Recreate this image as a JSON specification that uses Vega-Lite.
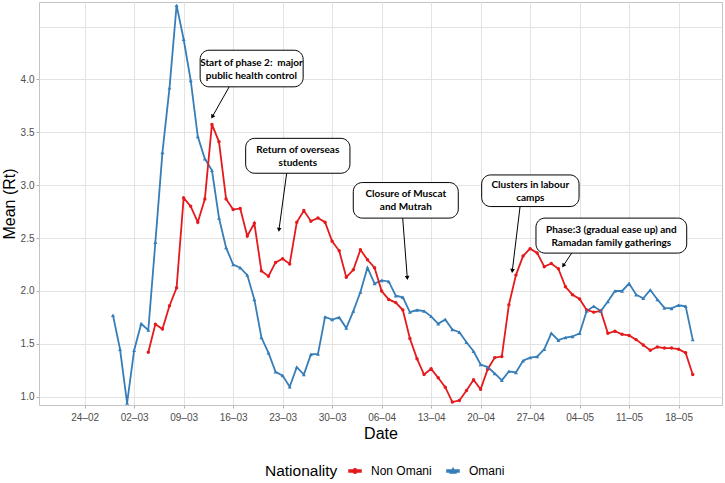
{
  "$schema": "https://vega.github.io/schema/vega-lite/v6.json",
  "autosize": {"type": "none"},
  "padding": {"left": 39, "top": 2, "right": 3, "bottom": 78},
  "width": 683,
  "height": 403,
  "background": "white",
  "config": {
    "font": "Liberation Sans",
    "view": {"stroke": "#c4c4c4", "strokeWidth": 1}
  },
  "datasets": {
    "rt": [
      {"date": "2020-02-28", "nat": "Omani", "rt": 1.77},
      {"date": "2020-02-29", "nat": "Omani", "rt": 1.45},
      {"date": "2020-03-01", "nat": "Omani", "rt": 0.94},
      {"date": "2020-03-02", "nat": "Omani", "rt": 1.44},
      {"date": "2020-03-03", "nat": "Omani", "rt": 1.69},
      {"date": "2020-03-04", "nat": "Omani", "rt": 1.63},
      {"date": "2020-03-05", "nat": "Omani", "rt": 2.46},
      {"date": "2020-03-06", "nat": "Omani", "rt": 3.31},
      {"date": "2020-03-07", "nat": "Omani", "rt": 3.92},
      {"date": "2020-03-08", "nat": "Omani", "rt": 4.70},
      {"date": "2020-03-09", "nat": "Omani", "rt": 4.38},
      {"date": "2020-03-10", "nat": "Omani", "rt": 3.99},
      {"date": "2020-03-11", "nat": "Omani", "rt": 3.46},
      {"date": "2020-03-12", "nat": "Omani", "rt": 3.25},
      {"date": "2020-03-13", "nat": "Omani", "rt": 3.14},
      {"date": "2020-03-14", "nat": "Omani", "rt": 2.69},
      {"date": "2020-03-15", "nat": "Omani", "rt": 2.41},
      {"date": "2020-03-16", "nat": "Omani", "rt": 2.25},
      {"date": "2020-03-17", "nat": "Omani", "rt": 2.22},
      {"date": "2020-03-18", "nat": "Omani", "rt": 2.15},
      {"date": "2020-03-19", "nat": "Omani", "rt": 1.92},
      {"date": "2020-03-20", "nat": "Omani", "rt": 1.56},
      {"date": "2020-03-21", "nat": "Omani", "rt": 1.415},
      {"date": "2020-03-22", "nat": "Omani", "rt": 1.235},
      {"date": "2020-03-23", "nat": "Omani", "rt": 1.20},
      {"date": "2020-03-24", "nat": "Omani", "rt": 1.095},
      {"date": "2020-03-25", "nat": "Omani", "rt": 1.28},
      {"date": "2020-03-26", "nat": "Omani", "rt": 1.21},
      {"date": "2020-03-27", "nat": "Omani", "rt": 1.40},
      {"date": "2020-03-28", "nat": "Omani", "rt": 1.405},
      {"date": "2020-03-29", "nat": "Omani", "rt": 1.755},
      {"date": "2020-03-30", "nat": "Omani", "rt": 1.73},
      {"date": "2020-03-31", "nat": "Omani", "rt": 1.75},
      {"date": "2020-04-01", "nat": "Omani", "rt": 1.65},
      {"date": "2020-04-02", "nat": "Omani", "rt": 1.81},
      {"date": "2020-04-03", "nat": "Omani", "rt": 1.99},
      {"date": "2020-04-04", "nat": "Omani", "rt": 2.22},
      {"date": "2020-04-05", "nat": "Omani", "rt": 2.07},
      {"date": "2020-04-06", "nat": "Omani", "rt": 2.10},
      {"date": "2020-04-07", "nat": "Omani", "rt": 2.09},
      {"date": "2020-04-08", "nat": "Omani", "rt": 1.955},
      {"date": "2020-04-09", "nat": "Omani", "rt": 1.94},
      {"date": "2020-04-10", "nat": "Omani", "rt": 1.80},
      {"date": "2020-04-11", "nat": "Omani", "rt": 1.82},
      {"date": "2020-04-12", "nat": "Omani", "rt": 1.81},
      {"date": "2020-04-13", "nat": "Omani", "rt": 1.76},
      {"date": "2020-04-14", "nat": "Omani", "rt": 1.69},
      {"date": "2020-04-15", "nat": "Omani", "rt": 1.73},
      {"date": "2020-04-16", "nat": "Omani", "rt": 1.635},
      {"date": "2020-04-17", "nat": "Omani", "rt": 1.61},
      {"date": "2020-04-18", "nat": "Omani", "rt": 1.515},
      {"date": "2020-04-19", "nat": "Omani", "rt": 1.43},
      {"date": "2020-04-20", "nat": "Omani", "rt": 1.305},
      {"date": "2020-04-21", "nat": "Omani", "rt": 1.28},
      {"date": "2020-04-22", "nat": "Omani", "rt": 1.22},
      {"date": "2020-04-23", "nat": "Omani", "rt": 1.155},
      {"date": "2020-04-24", "nat": "Omani", "rt": 1.24},
      {"date": "2020-04-25", "nat": "Omani", "rt": 1.23},
      {"date": "2020-04-26", "nat": "Omani", "rt": 1.34},
      {"date": "2020-04-27", "nat": "Omani", "rt": 1.37},
      {"date": "2020-04-28", "nat": "Omani", "rt": 1.38},
      {"date": "2020-04-29", "nat": "Omani", "rt": 1.45},
      {"date": "2020-04-30", "nat": "Omani", "rt": 1.60},
      {"date": "2020-05-01", "nat": "Omani", "rt": 1.535},
      {"date": "2020-05-02", "nat": "Omani", "rt": 1.56},
      {"date": "2020-05-03", "nat": "Omani", "rt": 1.57},
      {"date": "2020-05-04", "nat": "Omani", "rt": 1.60},
      {"date": "2020-05-05", "nat": "Omani", "rt": 1.81},
      {"date": "2020-05-06", "nat": "Omani", "rt": 1.855},
      {"date": "2020-05-07", "nat": "Omani", "rt": 1.81},
      {"date": "2020-05-08", "nat": "Omani", "rt": 1.90},
      {"date": "2020-05-09", "nat": "Omani", "rt": 2.00},
      {"date": "2020-05-10", "nat": "Omani", "rt": 2.00},
      {"date": "2020-05-11", "nat": "Omani", "rt": 2.07},
      {"date": "2020-05-12", "nat": "Omani", "rt": 1.965},
      {"date": "2020-05-13", "nat": "Omani", "rt": 1.93},
      {"date": "2020-05-14", "nat": "Omani", "rt": 2.01},
      {"date": "2020-05-15", "nat": "Omani", "rt": 1.92},
      {"date": "2020-05-16", "nat": "Omani", "rt": 1.84},
      {"date": "2020-05-17", "nat": "Omani", "rt": 1.835},
      {"date": "2020-05-18", "nat": "Omani", "rt": 1.865},
      {"date": "2020-05-19", "nat": "Omani", "rt": 1.855},
      {"date": "2020-05-20", "nat": "Omani", "rt": 1.54},
      {"date": "2020-03-04", "nat": "Non Omani", "rt": 1.42},
      {"date": "2020-03-05", "nat": "Non Omani", "rt": 1.685},
      {"date": "2020-03-06", "nat": "Non Omani", "rt": 1.64},
      {"date": "2020-03-07", "nat": "Non Omani", "rt": 1.86},
      {"date": "2020-03-08", "nat": "Non Omani", "rt": 2.03},
      {"date": "2020-03-09", "nat": "Non Omani", "rt": 2.88},
      {"date": "2020-03-10", "nat": "Non Omani", "rt": 2.80},
      {"date": "2020-03-11", "nat": "Non Omani", "rt": 2.65},
      {"date": "2020-03-12", "nat": "Non Omani", "rt": 2.87},
      {"date": "2020-03-13", "nat": "Non Omani", "rt": 3.575},
      {"date": "2020-03-14", "nat": "Non Omani", "rt": 3.41},
      {"date": "2020-03-15", "nat": "Non Omani", "rt": 2.87},
      {"date": "2020-03-16", "nat": "Non Omani", "rt": 2.77},
      {"date": "2020-03-17", "nat": "Non Omani", "rt": 2.78},
      {"date": "2020-03-18", "nat": "Non Omani", "rt": 2.52},
      {"date": "2020-03-19", "nat": "Non Omani", "rt": 2.64},
      {"date": "2020-03-20", "nat": "Non Omani", "rt": 2.19},
      {"date": "2020-03-21", "nat": "Non Omani", "rt": 2.14},
      {"date": "2020-03-22", "nat": "Non Omani", "rt": 2.27},
      {"date": "2020-03-23", "nat": "Non Omani", "rt": 2.305},
      {"date": "2020-03-24", "nat": "Non Omani", "rt": 2.255},
      {"date": "2020-03-25", "nat": "Non Omani", "rt": 2.65},
      {"date": "2020-03-26", "nat": "Non Omani", "rt": 2.76},
      {"date": "2020-03-27", "nat": "Non Omani", "rt": 2.66},
      {"date": "2020-03-28", "nat": "Non Omani", "rt": 2.69},
      {"date": "2020-03-29", "nat": "Non Omani", "rt": 2.65},
      {"date": "2020-03-30", "nat": "Non Omani", "rt": 2.47},
      {"date": "2020-03-31", "nat": "Non Omani", "rt": 2.38},
      {"date": "2020-04-01", "nat": "Non Omani", "rt": 2.13},
      {"date": "2020-04-02", "nat": "Non Omani", "rt": 2.20},
      {"date": "2020-04-03", "nat": "Non Omani", "rt": 2.39},
      {"date": "2020-04-04", "nat": "Non Omani", "rt": 2.295},
      {"date": "2020-04-05", "nat": "Non Omani", "rt": 2.22},
      {"date": "2020-04-06", "nat": "Non Omani", "rt": 2.00},
      {"date": "2020-04-07", "nat": "Non Omani", "rt": 1.92},
      {"date": "2020-04-08", "nat": "Non Omani", "rt": 1.89},
      {"date": "2020-04-09", "nat": "Non Omani", "rt": 1.82},
      {"date": "2020-04-10", "nat": "Non Omani", "rt": 1.55},
      {"date": "2020-04-11", "nat": "Non Omani", "rt": 1.36},
      {"date": "2020-04-12", "nat": "Non Omani", "rt": 1.21},
      {"date": "2020-04-13", "nat": "Non Omani", "rt": 1.264},
      {"date": "2020-04-14", "nat": "Non Omani", "rt": 1.18},
      {"date": "2020-04-15", "nat": "Non Omani", "rt": 1.09},
      {"date": "2020-04-16", "nat": "Non Omani", "rt": 0.95},
      {"date": "2020-04-17", "nat": "Non Omani", "rt": 0.965},
      {"date": "2020-04-18", "nat": "Non Omani", "rt": 1.06},
      {"date": "2020-04-19", "nat": "Non Omani", "rt": 1.16},
      {"date": "2020-04-20", "nat": "Non Omani", "rt": 1.07},
      {"date": "2020-04-21", "nat": "Non Omani", "rt": 1.26},
      {"date": "2020-04-22", "nat": "Non Omani", "rt": 1.37},
      {"date": "2020-04-23", "nat": "Non Omani", "rt": 1.38},
      {"date": "2020-04-24", "nat": "Non Omani", "rt": 1.87},
      {"date": "2020-04-25", "nat": "Non Omani", "rt": 2.15},
      {"date": "2020-04-26", "nat": "Non Omani", "rt": 2.33},
      {"date": "2020-04-27", "nat": "Non Omani", "rt": 2.40},
      {"date": "2020-04-28", "nat": "Non Omani", "rt": 2.36},
      {"date": "2020-04-29", "nat": "Non Omani", "rt": 2.23},
      {"date": "2020-04-30", "nat": "Non Omani", "rt": 2.26},
      {"date": "2020-05-01", "nat": "Non Omani", "rt": 2.21},
      {"date": "2020-05-02", "nat": "Non Omani", "rt": 2.04},
      {"date": "2020-05-03", "nat": "Non Omani", "rt": 1.965},
      {"date": "2020-05-04", "nat": "Non Omani", "rt": 1.925},
      {"date": "2020-05-05", "nat": "Non Omani", "rt": 1.82},
      {"date": "2020-05-06", "nat": "Non Omani", "rt": 1.80},
      {"date": "2020-05-07", "nat": "Non Omani", "rt": 1.81},
      {"date": "2020-05-08", "nat": "Non Omani", "rt": 1.60},
      {"date": "2020-05-09", "nat": "Non Omani", "rt": 1.62},
      {"date": "2020-05-10", "nat": "Non Omani", "rt": 1.59},
      {"date": "2020-05-11", "nat": "Non Omani", "rt": 1.58},
      {"date": "2020-05-12", "nat": "Non Omani", "rt": 1.54},
      {"date": "2020-05-13", "nat": "Non Omani", "rt": 1.49},
      {"date": "2020-05-14", "nat": "Non Omani", "rt": 1.44},
      {"date": "2020-05-15", "nat": "Non Omani", "rt": 1.47},
      {"date": "2020-05-16", "nat": "Non Omani", "rt": 1.46},
      {"date": "2020-05-17", "nat": "Non Omani", "rt": 1.46},
      {"date": "2020-05-18", "nat": "Non Omani", "rt": 1.45},
      {"date": "2020-05-19", "nat": "Non Omani", "rt": 1.415},
      {"date": "2020-05-20", "nat": "Non Omani", "rt": 1.21}
    ],
    "boxes": [
      {"x1": "2020-03-11T08:00:00Z", "x2": "2020-03-25T21:36:00Z", "y1": 4.276, "y2": 3.93, "xm": "2020-03-18T14:10:00Z", "ym": 4.103, "label": "Start of phase 2:\u00a0 major\npublic health control"},
      {"x1": "2020-03-17T18:29:00Z", "x2": "2020-04-01T12:29:00Z", "y1": 3.443, "y2": 3.113, "xm": "2020-03-25T03:36:00Z", "ym": 3.278, "label": "Return of overseas\nstudents"},
      {"x1": "2020-04-01T23:46:00Z", "x2": "2020-04-16T20:10:00Z", "y1": 3.025, "y2": 2.689, "xm": "2020-04-09T10:05:00Z", "ym": 2.857, "label": "Closure of Muscat\nand Mutrah"},
      {"x1": "2020-04-20T03:36:00Z", "x2": "2020-05-03T22:05:00Z", "y1": 3.097, "y2": 2.798, "xm": "2020-04-27T00:43:00Z", "ym": 2.948, "label": "Clusters in labour\ncamps"},
      {"x1": "2020-04-27T19:55:00Z", "x2": "2020-05-19T03:36:00Z", "y1": 2.689, "y2": 2.358, "xm": "2020-05-08T11:46:00Z", "ym": 2.524, "label": "Phase:3 (gradual ease up) and\nRamadan family gatherings"}
    ],
    "arrows": [
      {"xs": "2020-03-15T10:34:00Z", "ys": 3.93, "xe": "2020-03-13T01:12:00Z", "ye": 3.647},
      {"xs": "2020-03-23T13:41:00Z", "ys": 3.113, "xe": "2020-03-22T11:31:00Z", "ye": 2.578},
      {"xs": "2020-04-08T23:31:00Z", "ys": 2.689, "xe": "2020-04-09T15:07:00Z", "ye": 2.123},
      {"xs": "2020-04-25T13:55:00Z", "ys": 2.798, "xe": "2020-04-24T11:31:00Z", "ye": 2.19},
      {"xs": "2020-05-02T21:07:00Z", "ys": 2.358, "xe": "2020-05-01T16:34:00Z", "ye": 2.239}
    ]
  },
  "layer": [
    {
      "data": {"name": "rt"},
      "mark": {"type": "line", "strokeWidth": 1.8},
      "encoding": {
        "x": {
          "field": "date", "type": "temporal", "title": "Date",
          "scale": {"type": "utc", "domain": [{"year": 2020, "month": 2, "date": 17, "hours": 13, "utc": true}, {"year": 2020, "month": 5, "date": 24, "hours": 3, "minutes": 22, "utc": true}]},
          "axis": {
            "values": [
              {"year": 2020, "month": 2, "date": 24, "utc": true},
              {"year": 2020, "month": 3, "date": 2, "utc": true},
              {"year": 2020, "month": 3, "date": 9, "utc": true},
              {"year": 2020, "month": 3, "date": 16, "utc": true},
              {"year": 2020, "month": 3, "date": 23, "utc": true},
              {"year": 2020, "month": 3, "date": 30, "utc": true},
              {"year": 2020, "month": 4, "date": 6, "utc": true},
              {"year": 2020, "month": 4, "date": 13, "utc": true},
              {"year": 2020, "month": 4, "date": 20, "utc": true},
              {"year": 2020, "month": 4, "date": 27, "utc": true},
              {"year": 2020, "month": 5, "date": 4, "utc": true},
              {"year": 2020, "month": 5, "date": 11, "utc": true},
              {"year": 2020, "month": 5, "date": 18, "utc": true}
            ],
            "labelExpr": "utcFormat(datum.value, '%d') + '\u2013' + utcFormat(datum.value, '%m')",
            "domain": false,
            "grid": true, "gridColor": "#e3e3e3", "gridWidth": 1,
            "ticks": true, "tickSize": 3, "tickColor": "#b3b3b3",
            "labelFontSize": 10, "labelColor": "#4d4d4d", "labelPadding": 4,
            "titleFontSize": 16, "titleFontWeight": "normal", "titleColor": "#000000", "titlePadding": 3
          }
        },
        "y": {
          "field": "rt", "type": "quantitative", "title": "Mean (Rt)",
          "scale": {"domain": [0.922, 4.732], "nice": false, "zero": false},
          "axis": {
            "values": [1, 1.25, 1.5, 1.75, 2, 2.25, 2.5, 2.75, 3, 3.25, 3.5, 3.75, 4, 4.25, 4.5],
            "labelExpr": "(datum.value * 2) % 1 == 0 && datum.value <= 4 ? format(datum.value, '.1f') : ''",
            "domain": false,
            "grid": true,
            "gridColor": {"condition": {"test": "(datum.value * 2) % 1 == 0", "value": "#e3e3e3"}, "value": "#f1f1f1"},
            "tickSize": 3,
            "tickColor": "#b3b3b3",
            "tickOpacity": {"condition": {"test": "(datum.value * 2) % 1 == 0 && datum.value <= 4", "value": 1}, "value": 0},
            "labelFontSize": 10, "labelColor": "#4d4d4d", "labelPadding": 2,
            "titleFontSize": 16, "titleFontWeight": "normal", "titleColor": "#000000", "titlePadding": 3
          }
        },
        "color": {
          "field": "nat", "type": "nominal",
          "scale": {"domain": ["Non Omani", "Omani"], "range": ["#E41A1C", "#377EB8"]},
          "legend": {
            "orient": "none", "legendX": 226, "legendY": 462,
            "direction": "horizontal", "title": "Nationality", "titleOrient": "left",
            "titleFontSize": 15.5, "titleFontWeight": "normal", "titleColor": "#000000", "titlePadding": 10,
            "labelFontSize": 12, "labelColor": "#000000", "labelOffset": 9, "columnPadding": 12,
            "symbolSize": 144,
            "encode": {
              "symbols": {
                "update": {
                  "shape": {"signal": "datum.value == 'Omani' ? 'M-1,-0.16L1,-0.16L1,0.16L-1,0.16Z M0,-0.42L0.44,0.34L-0.44,0.34Z' : 'M-1,-0.16L1,-0.16L1,0.16L-1,0.16Z M0.36,0A0.36,0.36,0,1,1,-0.36,0A0.36,0.36,0,1,1,0.36,0Z'"},
                  "size": {"value": 144},
                  "fill": {"signal": "datum.value == 'Omani' ? '#377EB8' : '#E41A1C'"},
                  "stroke": {"value": "transparent"},
                  "fillOpacity": {"value": 1}
                }
              }
            }
          }
        }
      }
    },
    {
      "data": {"name": "rt"},
      "transform": [{"filter": "datum.nat == 'Non Omani'"}],
      "mark": {"type": "point", "shape": "circle", "filled": true, "opacity": 1, "size": 12},
      "encoding": {
        "x": {"field": "date", "type": "temporal", "title": "Date"},
        "y": {"field": "rt", "type": "quantitative", "title": "Mean (Rt)"},
        "color": {"field": "nat", "type": "nominal"}
      }
    },
    {
      "data": {"name": "rt"},
      "transform": [{"filter": "datum.nat == 'Omani'"}],
      "mark": {"type": "point", "shape": "triangle-up", "filled": true, "opacity": 1, "size": 16},
      "encoding": {
        "x": {"field": "date", "type": "temporal", "title": "Date"},
        "y": {"field": "rt", "type": "quantitative", "title": "Mean (Rt)"},
        "color": {"field": "nat", "type": "nominal"}
      }
    },
    {
      "data": {"name": "boxes"},
      "mark": {"type": "rect", "fill": "white", "stroke": "#000000", "strokeWidth": 1, "cornerRadius": 9},
      "encoding": {
        "x": {"field": "x1", "type": "temporal", "title": "Date"},
        "x2": {"field": "x2"},
        "y": {"field": "y1", "type": "quantitative", "title": "Mean (Rt)"},
        "y2": {"field": "y2"}
      }
    },
    {
      "data": {"name": "boxes"},
      "mark": {"type": "text", "font": "Lato", "fontWeight": "bold", "fontSize": 10, "lineHeight": 13, "lineBreak": "\n", "align": "center", "baseline": "middle", "dy": -6, "color": "#000000"},
      "encoding": {
        "x": {"field": "xm", "type": "temporal", "title": "Date"},
        "y": {"field": "ym", "type": "quantitative", "title": "Mean (Rt)"},
        "text": {"field": "label", "type": "nominal"}
      }
    },
    {
      "data": {"name": "arrows"},
      "mark": {"type": "rule", "color": "#000000", "strokeWidth": 1},
      "encoding": {
        "x": {"field": "xs", "type": "temporal", "title": "Date"},
        "x2": {"field": "xe"},
        "y": {"field": "ys", "type": "quantitative", "title": "Mean (Rt)"},
        "y2": {"field": "ye"}
      }
    },
    {
      "data": {"name": "arrows"},
      "mark": {"type": "point", "shape": "triangle-down", "filled": true, "color": "#000000", "opacity": 1, "size": 22,
        "angle": {"expr": "atan2(scale('x', toDate(datum.xs)) - scale('x', toDate(datum.xe)), scale('y', datum.ye) - scale('y', datum.ys)) * 180 / PI"}},
      "encoding": {
        "x": {"field": "xe", "type": "temporal", "title": "Date"},
        "y": {"field": "ye", "type": "quantitative", "title": "Mean (Rt)"}
      }
    }
  ]
}
